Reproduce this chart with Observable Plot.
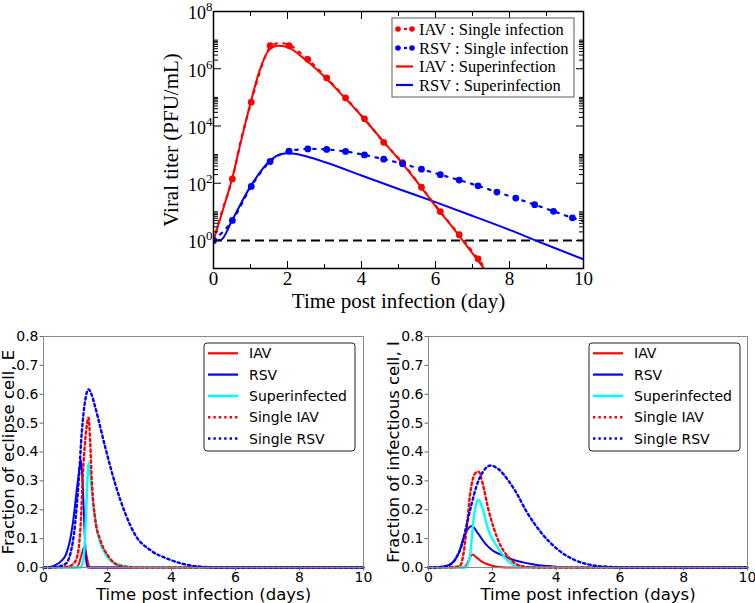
<!DOCTYPE html>
<html><head><meta charset="utf-8">
<script src="https://cdn.jsdelivr.net/npm/d3@7"></script>
<script src="https://cdn.jsdelivr.net/npm/@observablehq/plot@0.6"></script>
<style>
body{margin:0;background:#fff;}
#wrap{position:relative;width:755px;height:603px;overflow:hidden;background:#fff;}
.panel{position:absolute;}
</style></head><body><div id="wrap"></div>
<script>
// ---------- Top panel: viral titer (log10 values) ----------
const dayTicks = [0, 2, 4, 6, 8, 10];
const dayMinor = [1, 3, 5, 7, 9];
const titerExpTicks = [0, 2, 4, 6, 8];
const minorMantissa = [2, 3, 4, 5, 6, 7, 8, 9, 10];

const markT = [0, 0.51, 1.02, 1.53, 2.04, 2.55, 3.06, 3.57, 4.08, 4.6, 5.11, 5.62, 6.13, 6.64, 7.15, 7.66, 8.17, 8.68, 9.19, 9.7];
const iavSingleMarkExp = [0, 2.15, 4.83, 6.81, 6.81, 6.33, 5.68, 4.98, 4.25, 3.43, 2.72, 1.86, 1.01, 0.2, -0.64];
const rsvSingleMarkExp = [0, 0.70, 1.89, 2.76, 3.12, 3.2, 3.18, 3.11, 2.99, 2.84, 2.68, 2.49, 2.30, 2.11, 1.91, 1.69, 1.48, 1.25, 1.02, 0.79];

const iavSingleLineT   = [0, 0.25, 0.51, 0.75, 1.02, 1.28, 1.53, 1.78, 2.04, 2.3, 2.55, 3.06, 3.57, 4.08, 4.6, 5.11, 5.62, 6.13, 6.64, 7.15, 7.45];
const iavSingleLineExp = [0, 1.1, 2.15, 3.55, 4.83, 6.0, 6.75, 6.9, 6.84, 6.6, 6.33, 5.68, 4.98, 4.25, 3.43, 2.72, 1.86, 1.01, 0.2, -0.64, -1.15];
const rsvSingleLineT   = [0, 0.51, 1.02, 1.53, 2.04, 2.55, 3.06, 3.57, 4.08, 4.6, 5.11, 5.62, 6.13, 6.64, 7.15, 7.66, 8.17, 8.68, 9.19, 9.7, 10];
const rsvSingleLineExp = [0, 0.70, 1.89, 2.76, 3.12, 3.2, 3.18, 3.11, 2.99, 2.84, 2.68, 2.49, 2.30, 2.11, 1.91, 1.69, 1.48, 1.25, 1.02, 0.79, 0.68];

const iavSuperT   = [0, 0.25, 0.5, 0.75, 1.0, 1.25, 1.5, 1.75, 2.0, 2.5, 3.0, 3.5, 4.0, 4.5, 5.0, 5.5, 6.0, 6.5, 7.0, 7.35];
const iavSuperExp = [0, 1.05, 2.15, 3.5, 4.8, 5.95, 6.65, 6.8, 6.75, 6.3, 5.72, 5.05, 4.35, 3.6, 2.85, 2.05, 1.2, 0.4, -0.45, -1.05];
const rsvSuperT   = [0, 0.2, 0.5, 1.0, 1.5, 1.75, 2.0, 2.25, 2.5, 3, 4, 5, 6, 7, 8, 9, 10];
const rsvSuperExp = [0, 0.02, 0.7, 1.89, 2.75, 2.98, 3.05, 3.02, 2.94, 2.74, 2.27, 1.8, 1.34, 0.86, 0.37, -0.15, -0.66];

const topLegend = ["IAV : Single infection", "RSV : Single infection", "IAV : Superinfection", "RSV : Superinfection"];

// ---------- Bottom panels: fractions ----------
const fracTicks = [0, 0.1, 0.2, 0.3, 0.4, 0.5, 0.6, 0.7, 0.8];
const bottomLegend = ["IAV", "RSV", "Superinfected", "Single IAV", "Single RSV"];

const eIAV = [[0,0],[1.0,0],[1.1,0.01],[1.18,0.04],[1.27,0.071],[1.34,0.045],[1.4,0.012],[1.46,0],[10,0]];
const eRSV = [[0,0],[0.2,0.002],[0.37,0.008],[0.55,0.022],[0.7,0.045],[0.82,0.09],[0.93,0.163],[1.05,0.278],[1.13,0.347],[1.17,0.372],[1.22,0.3],[1.27,0.163],[1.33,0.03],[1.38,0],[10,0]];
const eSuper = [[0,0],[1.15,0],[1.22,0.015],[1.27,0.048],[1.33,0.186],[1.41,0.364],[1.48,0.3],[1.57,0.209],[1.72,0.106],[1.93,0.048],[2.24,0.014],[2.66,0.003],[3,0],[10,0]];
const eIAVsingle = [[0,0],[0.7,0.002],[0.89,0.009],[1.05,0.037],[1.15,0.129],[1.25,0.359],[1.33,0.47],[1.41,0.519],[1.46,0.43],[1.51,0.30],[1.62,0.163],[1.78,0.094],[2.04,0.037],[2.45,0.004],[3,0],[10,0]];
const eRSVsingle = [[0,0],[0.4,0.002],[0.68,0.012],[0.84,0.048],[0.99,0.152],[1.1,0.3],[1.2,0.473],[1.3,0.577],[1.41,0.617],[1.5,0.6],[1.62,0.554],[1.93,0.416],[2.24,0.29],[2.56,0.186],[2.87,0.112],[3.34,0.06],[3.86,0.031],[4.38,0.012],[4.9,0.003],[5.5,0],[10,0]];

const iIAV = [[0,0],[1.1,0],[1.2,0.01],[1.3,0.035],[1.38,0.045],[1.5,0.035],[1.65,0.022],[1.78,0.014],[2.0,0.006],[2.3,0.001],[2.6,0],[10,0]];
const iRSV = [[0,0],[0.3,0.001],[0.63,0.008],[0.94,0.048],[1.15,0.117],[1.36,0.144],[1.55,0.118],[1.78,0.083],[2.0,0.06],[2.3,0.043],[2.65,0.027],[3.04,0.016],[3.4,0.009],[3.77,0.005],[4.3,0.001],[5,0],[10,0]];
const iSuper = [[0,0],[1.15,0],[1.25,0.015],[1.31,0.048],[1.41,0.163],[1.5,0.22],[1.57,0.235],[1.68,0.21],[1.88,0.129],[2.05,0.09],[2.2,0.065],[2.3,0.048],[2.51,0.02],[2.8,0.004],[3.2,0],[10,0]];
const iIAVsingle = [[0,0],[0.8,0.001],[1.0,0.008],[1.1,0.05],[1.2,0.14],[1.3,0.25],[1.4,0.31],[1.5,0.33],[1.57,0.332],[1.7,0.29],[1.88,0.2],[2.05,0.135],[2.2,0.09],[2.51,0.035],[2.83,0.008],[3.2,0.001],[3.6,0],[10,0]];
const iRSVsingle = [[0,0],[0.5,0.003],[0.73,0.014],[0.9,0.04],[1.05,0.08],[1.2,0.15],[1.35,0.22],[1.5,0.28],[1.7,0.33],[1.94,0.353],[2.2,0.34],[2.51,0.30],[2.8,0.25],[3.04,0.2],[3.3,0.155],[3.56,0.117],[4.08,0.06],[4.6,0.025],[5.13,0.008],[5.7,0.002],[6.3,0],[10,0]];

const RED = "#ff0000", BLUE = "#0000ff", CYAN = "#00ffff";

// ---------- helpers ----------
const wrap = document.getElementById("wrap");
function place(el, left, topPx) {
  const d = document.createElement("div");
  d.className = "panel"; d.style.left = left + "px"; d.style.top = topPx + "px";
  d.appendChild(el); wrap.appendChild(d);
}
const toRows = (ts, es) => ts.map((t, i) => ({t, v: Math.pow(10, es[i])}));
const pairs = a => a.map(([t, v]) => ({t, v}));

// ---------- Top plot ----------
const iavMarks = toRows(markT.slice(0, iavSingleMarkExp.length), iavSingleMarkExp);
const rsvMarks = toRows(markT.slice(0, rsvSingleMarkExp.length), rsvSingleMarkExp);
const iavSLine = toRows(iavSingleLineT, iavSingleLineExp);
const rsvSLine = toRows(rsvSingleLineT, rsvSingleLineExp);
const iavSup = toRows(iavSuperT, iavSuperExp);
const rsvSup = toRows(rsvSuperT, rsvSuperExp);
const majorY = titerExpTicks.map(e => Math.pow(10, e));
const minorY = titerExpTicks.slice(0, 4).flatMap(e => minorMantissa.map(m => m * Math.pow(10, e)));

const topPlot = Plot.plot({
  width: 445, height: 318,
  marginLeft: 63, marginRight: 12, marginTop: 11, marginBottom: 50,
  style: {fontFamily: "Liberation Serif, serif", fontSize: "18px", color: "black", background: "transparent"},
  x: {domain: [0, 10], label: null},
  y: {type: "log", domain: [0.105, 1e8], label: null},
  marks: [
    Plot.ruleY([1], {stroke: "black", strokeWidth: 2.2, strokeDasharray: "9,5"}),
    Plot.line(iavSup, {x: "t", y: "v", stroke: RED, strokeWidth: 2, curve: "monotone-x", clip: true}),
    Plot.line(rsvSup, {x: "t", y: "v", stroke: BLUE, strokeWidth: 2, curve: "monotone-x", clip: true}),
    Plot.line(iavSLine, {x: "t", y: "v", stroke: RED, strokeWidth: 2.2, strokeDasharray: "2.5,6.5", curve: "monotone-x", clip: true}),
    Plot.line(rsvSLine, {x: "t", y: "v", stroke: BLUE, strokeWidth: 2.2, strokeDasharray: "2.5,6.5", curve: "monotone-x", clip: true}),
    Plot.dot(iavMarks, {x: "t", y: "v", r: 3.4, fill: RED, clip: true}),
    Plot.dot(rsvMarks, {x: "t", y: "v", r: 3.4, fill: BLUE, clip: true}),
    Plot.frame({stroke: "black", strokeWidth: 1.5}),
    Plot.axisX({anchor: "bottom", ticks: dayTicks, tickSize: -7, tickPadding: 10, fontSize: 19, tickFormat: d => String(d), label: null}),
    Plot.axisX({anchor: "bottom", ticks: dayMinor, tickSize: -4, tickFormat: () => "", label: null}),
    Plot.axisX({anchor: "top", ticks: dayTicks, tickSize: -7, tickFormat: () => "", label: null}),
    Plot.axisX({anchor: "top", ticks: dayMinor, tickSize: -4, tickFormat: () => "", label: null}),
    Plot.axisY({anchor: "left", ticks: majorY, tickSize: -8, tickPadding: 9, fontSize: 18, tickFormat: d => "10^" + Math.round(Math.log10(d)), label: null}),
    Plot.axisY({anchor: "left", ticks: minorY, tickSize: -5, tickFormat: () => "", label: null}),
    Plot.axisY({anchor: "right", ticks: majorY, tickSize: -8, tickFormat: () => "", label: null}),
    Plot.axisY({anchor: "right", ticks: minorY, tickSize: -5, tickFormat: () => "", label: null}),
    Plot.text(["Time post infection (day)"], {frameAnchor: "bottom", textAnchor: "middle", dy: 39, lineAnchor: "bottom", fontSize: 21, text: d => d}),
    Plot.text(["Viral titer (PFU/mL)"], {frameAnchor: "left", textAnchor: "middle", rotate: -90, dx: -42, fontSize: 21, text: d => d})
  ]
});
// superscripts
d3.select(topPlot).selectAll("text").each(function() {
  const s = this.textContent;
  if (/^10\^-?\d+$/.test(s)) {
    const ex = s.split("^")[1];
    const el = d3.select(this);
    el.text(null);
    el.append("tspan").attr("dy", "0.12em").text("10");
    el.append("tspan").attr("dy", "-0.62em").attr("font-size", "13px").text(ex);
  }
});
// legend top
{
  const svg = d3.select(topPlot);
  const g = svg.append("g").attr("font-family", "Liberation Serif, serif").attr("font-size", "16.5px").attr("text-anchor", "start");
  g.append("rect").attr("x", 242).attr("y", 18).attr("width", 182).attr("height", 79)
    .attr("fill", "white").attr("stroke", "#777").attr("stroke-width", 1.2);
  const rowsY = [29, 48, 66.5, 85];
  const cols = [RED, BLUE, RED, BLUE];
  topLegend.forEach((lab, i) => {
    const y = rowsY[i];
    if (i < 2) {
      g.append("circle").attr("cx", 248).attr("cy", y).attr("r", 2.8).attr("fill", cols[i]);
      g.append("line").attr("x1", 254).attr("x2", 257).attr("y1", y).attr("y2", y).attr("stroke", cols[i]).attr("stroke-width", 2.2);
      g.append("circle").attr("cx", 262).attr("cy", y).attr("r", 2.8).attr("fill", cols[i]);
    } else {
      g.append("line").attr("x1", 246).attr("x2", 263).attr("y1", y).attr("y2", y).attr("stroke", cols[i]).attr("stroke-width", 2.2);
    }
    g.append("text").attr("x", 269).attr("y", y).attr("dy", "0.34em").attr("text-anchor", "start").text(lab);
  });
}
place(topPlot, 150, 0);

// ---------- Bottom plots ----------
function fracPlot(opts) {
  const p = Plot.plot({
    width: opts.width, height: 283,
    marginLeft: opts.ml, marginRight: opts.mr, marginTop: 16, marginBottom: 36,
    style: {fontFamily: "DejaVu Sans, sans-serif", fontSize: "14px", color: "black", background: "transparent"},
    x: {domain: [0, 10], label: null},
    y: {domain: [0, 0.8], label: null},
    marks: [
      Plot.line(pairs(opts.iav), {x: "t", y: "v", stroke: RED, strokeWidth: 2, curve: "monotone-x"}),
      Plot.line(pairs(opts.rsv), {x: "t", y: "v", stroke: BLUE, strokeWidth: 2, curve: "monotone-x"}),
      Plot.line(pairs(opts.sup), {x: "t", y: "v", stroke: CYAN, strokeWidth: 2.4, curve: "monotone-x"}),
      Plot.line(pairs(opts.iavS), {x: "t", y: "v", stroke: RED, strokeWidth: 2.4, strokeDasharray: "2.4,3", curve: "monotone-x"}),
      Plot.line(pairs(opts.rsvS), {x: "t", y: "v", stroke: BLUE, strokeWidth: 2.4, strokeDasharray: "2.4,3", curve: "monotone-x"}),
      Plot.frame({stroke: "#8a8a8a"}),
      Plot.axisX({ticks: dayTicks, tickSize: 3.5, tickPadding: 1.5, stroke: "#666", tickFormat: d => String(d), label: null}),
      Plot.axisY({ticks: fracTicks, tickSize: 3.5, tickPadding: 1.5, stroke: "#666", tickFormat: d3.format(".1f"), label: null}),
      Plot.text(["Time post infection (days)"], {frameAnchor: "bottom", textAnchor: "middle", dy: 32.5, lineAnchor: "bottom", fontSize: 16.5, text: d => d}),
      Plot.text([opts.ylab], {frameAnchor: "left", textAnchor: "middle", rotate: -90, dx: -35, fontSize: 16.5, text: d => d})
    ]
  });
  const g = d3.select(p).append("g").attr("font-family", "DejaVu Sans, sans-serif").attr("font-size", "14px").attr("text-anchor", "start");
  const lx = opts.lx;
  g.append("rect").attr("x", lx).attr("y", 23).attr("width", 151).attr("height", 108).attr("rx", 3)
    .attr("fill", "white").attr("stroke", "#222").attr("stroke-width", 1);
  const cols = [RED, BLUE, CYAN, RED, BLUE];
  bottomLegend.forEach((lab, i) => {
    const y = 33.3 + i * 21.3;
    const ln = g.append("line").attr("x1", lx + 4).attr("x2", lx + 34).attr("y1", y).attr("y2", y)
      .attr("stroke", cols[i]).attr("stroke-width", i === 2 ? 2.6 : 2.2);
    if (i >= 3) ln.attr("stroke-dasharray", "2.4,3").attr("stroke-width", 2.4);
    g.append("text").attr("x", lx + 45).attr("y", y).attr("dy", "0.36em").attr("text-anchor", "start").text(lab);
  });
  return p;
}

place(fracPlot({width: 375, ml: 43, mr: 12, lx: 204, ylab: "Fraction of eclipse cell, E",
  iav: eIAV, rsv: eRSV, sup: eSuper, iavS: eIAVsingle, rsvS: eRSVsingle}), 0, 320);
place(fracPlot({width: 380, ml: 53, mr: 8, lx: 214, ylab: "Fraction of infectious cell, I",
  iav: iIAV, rsv: iRSV, sup: iSuper, iavS: iIAVsingle, rsvS: iRSVsingle}), 375, 320);
</script></body></html>
